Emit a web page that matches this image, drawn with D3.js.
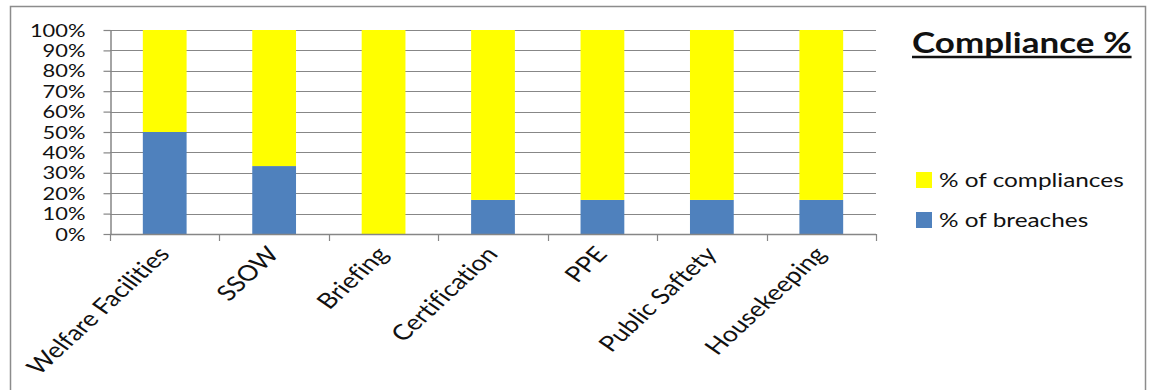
<!DOCTYPE html>
<html>
<head>
<meta charset="utf-8">
<script src="https://cdnjs.cloudflare.com/ajax/libs/d3/7.8.5/d3.min.js"></script>
<style>
  html, body { margin: 0; padding: 0; background: #fff; }
  svg { display: block; }
  text { font-family: Lato, "Open Sans", sans-serif; fill: #111; font-variant-ligatures: none; font-feature-settings: "liga" 0; }
</style>
</head>
<body>
<svg id="chart" width="1150" height="390"></svg>
<script>
// Categories and the two stacked shares (fractions of 1)
const categories = ["Welfare Facilities", "SSOW", "Briefing", "Certification", "PPE", "Public Saftety", "Housekeeping"];
const breaches    = [0.50, 0.333, 0.00, 0.167, 0.167, 0.167, 0.167];
const compliances = [0.50, 0.667, 1.00, 0.833, 0.833, 0.833, 0.833];
const yTickValues = [0, 0.1, 0.2, 0.3, 0.4, 0.5, 0.6, 0.7, 0.8, 0.9, 1.0];
const seriesNames = ["% of compliances", "% of breaches"];
const seriesColors = ["#FFFF00", "#4F81BD"];
const chartTitle = "Compliance %";

// Horizontal widening of the lettering
const sx = 1.25;

const svg = d3.select("#chart");

// Outer frame
svg.append("rect")
  .attr("x", 10.5).attr("y", 6.5)
  .attr("width", 1135).attr("height", 400)
  .attr("fill", "#fff").attr("stroke", "#8c8c8c").attr("stroke-width", 1.5);

const plot = { left: 110, right: 876, top: 30, bottom: 234 };

const x = d3.scaleBand()
  .domain(categories)
  .range([plot.left, plot.right])
  .paddingInner(0.6)
  .paddingOuter(0.3);

const y = d3.scaleLinear().domain([0, 1]).range([plot.bottom, plot.top]);

// Gridlines
svg.append("g")
  .selectAll("line")
  .data(yTickValues.filter(v => v > 0))
  .join("line")
  .attr("x1", plot.left).attr("x2", plot.right)
  .attr("y1", d => Math.round(y(d)) + 0.5).attr("y2", d => Math.round(y(d)) + 0.5)
  .attr("stroke", "#878787").attr("stroke-width", 1.2);

// Stacked bars
const rows = categories.map((c, i) => ({ cat: c, breaches: breaches[i], compliances: compliances[i] }));
const stack = d3.stack().keys(["breaches", "compliances"]);
const layers = stack(rows);
const colorByKey = { breaches: seriesColors[1], compliances: seriesColors[0] };

svg.append("g")
  .selectAll("g")
  .data(layers)
  .join("g")
  .attr("fill", d => colorByKey[d.key])
  .selectAll("rect")
  .data(d => d)
  .join("rect")
  .attr("x", d => x(d.data.cat))
  .attr("width", x.bandwidth())
  .attr("y", d => y(d[1]))
  .attr("height", d => y(d[0]) - y(d[1]));

// Y axis
const yAxis = d3.axisLeft(y)
  .tickValues(yTickValues)
  .tickFormat(d3.format(".0%"))
  .tickSize(7)
  .tickSizeOuter(0)
  .tickPadding(0);

const yg = svg.append("g")
  .attr("transform", `translate(${plot.left + 0.5},0)`)
  .call(yAxis);
yg.select(".domain").attr("stroke", "#868686").attr("stroke-width", 1.5);
yg.selectAll(".tick line").attr("stroke", "#868686").attr("stroke-width", 1.2);
yg.selectAll(".tick text")
  .attr("x", 0)
  .attr("transform", `translate(-25,0) scale(${sx},1)`)
  .attr("dy", "0.35em")
  .style("font-size", "17.5px")
  .style("fill", "#111");

// X axis line with ticks at category boundaries
const bounds = d3.range(categories.length + 1).map(i => plot.left + i * (plot.right - plot.left) / categories.length);
svg.append("line")
  .attr("x1", plot.left).attr("x2", plot.right)
  .attr("y1", plot.bottom + 0.5).attr("y2", plot.bottom + 0.5)
  .attr("stroke", "#868686").attr("stroke-width", 1.5);
svg.append("g")
  .selectAll("line")
  .data(bounds)
  .join("line")
  .attr("x1", d => Math.round(d) + 0.5).attr("x2", d => Math.round(d) + 0.5)
  .attr("y1", plot.bottom).attr("y2", plot.bottom + 7)
  .attr("stroke", "#868686").attr("stroke-width", 1.2);

// Category labels, rotated
svg.append("g")
  .selectAll("text")
  .data(categories)
  .join("text")
  .attr("transform", d => `translate(${x(d) + x.bandwidth() / 2 - 1},${plot.bottom + 16}) scale(${sx},1) rotate(-49)`)
  .attr("text-anchor", "end")
  .attr("dy", "0.35em")
  .style("font-size", "21.5px")
  .text(d => d);

// Title
const title = svg.append("text")
  .attr("transform", `translate(912,53) scale(${sx},1)`)
  .style("font-size", "28px")
  .style("font-weight", "bold")
  .text(chartTitle);
const tw = title.node().getComputedTextLength() * sx;
svg.append("line")
  .attr("x1", 912).attr("x2", 912 + tw)
  .attr("y1", 57).attr("y2", 57)
  .attr("stroke", "#111").attr("stroke-width", 2.5);

// Legend
const legend = svg.append("g")
  .selectAll("g")
  .data(seriesNames)
  .join("g")
  .attr("transform", (d, i) => `translate(916,${172 + i * 40})`);
legend.append("rect")
  .attr("width", 16).attr("height", 16)
  .attr("fill", (d, i) => seriesColors[i]);
legend.append("text")
  .attr("transform", `translate(23,8) scale(${sx},1)`)
  .attr("dy", "0.35em")
  .style("font-size", "19.5px")
  .text(d => d);
</script>
</body>
</html>
